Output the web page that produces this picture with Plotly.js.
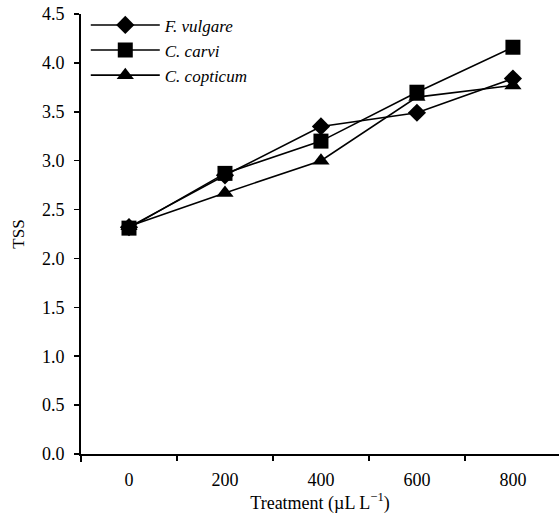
<!DOCTYPE html>
<html>
<head>
<meta charset="utf-8">
<script src="https://cdn.plot.ly/plotly-3.0.1.min.js"></script>
<style>html,body{margin:0;padding:0;background:#fff;}</style>
</head>
<body>
<div id="chart" style="width:559px;height:520px;"></div>
<script>
const treatments = ["0", "200", "400", "600", "800"];
const seriesNames = ["F. vulgare", "C. carvi", "C. copticum"];
const fVulgare = [2.32, 2.85, 3.35, 3.49, 3.84];
const cCarvi = [2.31, 2.87, 3.20, 3.70, 4.16];
const cCopticum = [2.33, 2.67, 3.00, 3.65, 3.77];
const yTickVals = [0, 0.5, 1, 1.5, 2, 2.5, 3, 3.5, 4, 4.5];

const symbols = ["diamond", "square", "triangle-up"];
const sizes = [14, 15, 15];
const data = [fVulgare, cCarvi, cCopticum].map((vals, i) => ({
  type: "scatter",
  mode: "lines+markers",
  x: treatments,
  y: vals,
  name: seriesNames[i],
  line: {color: "#000", width: 1.6},
  marker: {symbol: symbols[i], size: sizes[i], color: "#000"}
}));

const fam = "Liberation Serif, Times New Roman, serif";
const layout = {
  width: 559, height: 520,
  margin: {l: 81, r: 0, t: 14, b: 66},
  paper_bgcolor: "#fff", plot_bgcolor: "#fff",
  font: {family: fam, color: "#000", size: 18},
  showlegend: true,
  legend: {
    x: 0.01, y: 1.015, xanchor: "left", yanchor: "top",
    bgcolor: "rgba(0,0,0,0)",
    font: {family: fam, size: 17, color: "#000", style: "italic"},
    itemwidth: 69,
    tracegroupgap: 0
  },
  xaxis: {
    type: "category",
    range: [-0.5, 4.48],
    tickson: "boundaries",
    ticks: "outside", ticklen: 5, tickwidth: 1.5, tickcolor: "#000",
    showline: true, linecolor: "#000", linewidth: 1.5,
    showgrid: false, zeroline: false,
    tickfont: {size: 18},
    ticklabelstandoff: 9,
    title: {text: "Treatment (µL L<sup>−1</sup>)", font: {size: 18}, standoff: 7}
  },
  yaxis: {
    range: [0, 4.5],
    tickvals: yTickVals,
    tickformat: ".1f",
    ticks: "outside", ticklen: 5, tickwidth: 1.5, tickcolor: "#000",
    showline: true, linecolor: "#000", linewidth: 2,
    showgrid: false, zeroline: false,
    tickfont: {size: 18},
    ticklabelstandoff: 6,
    title: {text: "TSS", font: {size: 17}, standoff: 13}
  },
  shapes: [{
    type: "line", xref: "paper", yref: "paper",
    x0: 0, x1: 0, y0: 0, y1: -0.018,
    line: {color: "#000", width: 2}
  }]
};
Plotly.newPlot("chart", data, layout, {displayModeBar: false, staticPlot: true});
</script>
</body>
</html>
